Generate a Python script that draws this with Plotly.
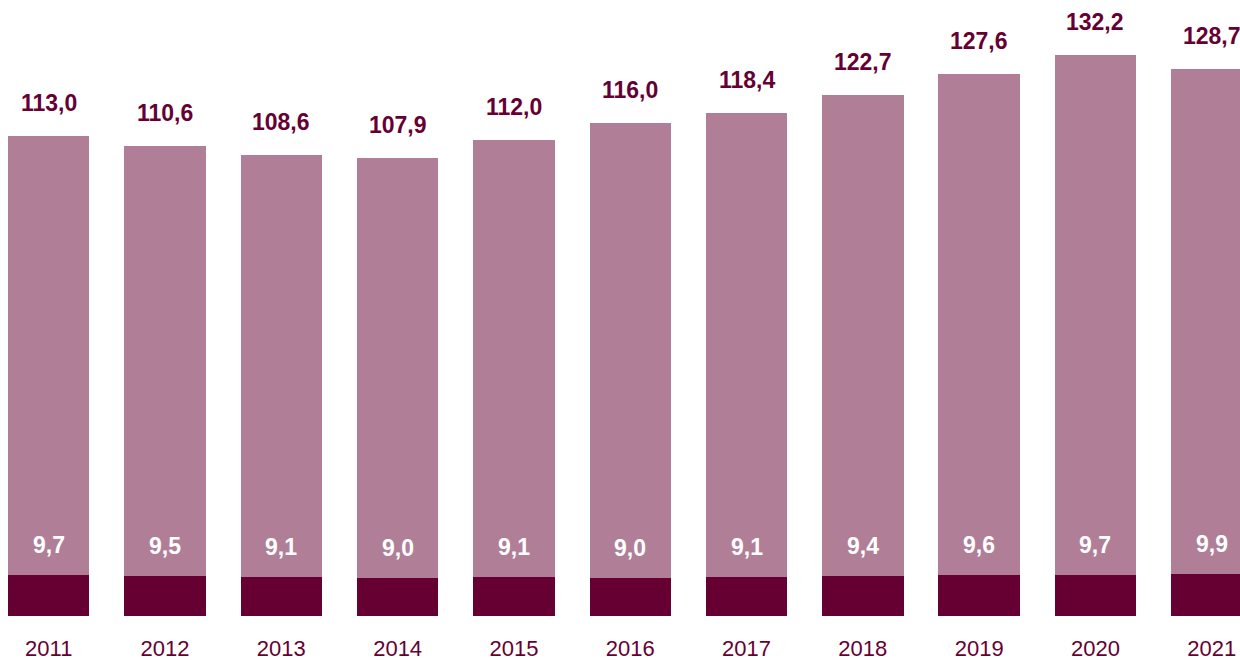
import plotly.graph_objects as go

years = ["2011", "2012", "2013", "2014", "2015", "2016", "2017", "2018", "2019", "2020", "2021"]
totals = [113.0, 110.6, 108.6, 107.9, 112.0, 116.0, 118.4, 122.7, 127.6, 132.2, 128.7]
base = [9.7, 9.5, 9.1, 9.0, 9.1, 9.0, 9.1, 9.4, 9.6, 9.7, 9.9]
upper = [round(t - b, 1) for t, b in zip(totals, base)]

DARK = "#660033"
LIGHT = "#B07F97"
FONT = "Liberation Sans, Arial, sans-serif"

def fmt(v):
    return f"{v:.1f}".replace(".", ",")

fig = go.Figure()
fig.add_trace(go.Bar(x=years, y=base, marker=dict(color=DARK, line=dict(width=0)),
                     width=0.7, hoverinfo="skip"))
fig.add_trace(go.Bar(x=years, y=upper, marker=dict(color=LIGHT, line=dict(width=0)),
                     width=0.7, hoverinfo="skip"))

annotations = []
for i, (t, b) in enumerate(zip(totals, base)):
    annotations.append(dict(x=i, y=t, text=f"<b>{fmt(t)}</b>", showarrow=False,
                            yanchor="middle", yshift=33, xref="x", yref="y",
                            font=dict(family=FONT, size=23, color=DARK)))
    annotations.append(dict(x=i, y=b, text=f"<b>{fmt(b)}</b>", showarrow=False,
                            yanchor="middle", yshift=30, xref="x", yref="y",
                            font=dict(family=FONT, size=23, color="white")))

fig.update_layout(
    barmode="stack",
    width=1240, height=660,
    margin=dict(l=0, r=0, t=0, b=44, autoexpand=False),
    paper_bgcolor="white", plot_bgcolor="white",
    showlegend=False,
    annotations=annotations,
    xaxis=dict(type="category", range=[-0.419, 10.243], showgrid=False, showline=False,
               zeroline=False, automargin=False, ticks="outside", ticklen=13,
               tickcolor="rgba(0,0,0,0)",
               tickfont=dict(family=FONT, size=22, color=DARK)),
    yaxis=dict(range=[0, 145.05], visible=False, showgrid=False, zeroline=False,
               automargin=False),
)

fig.write_html("out.html", config={"displayModeBar": False},
               post_script="document.body.style.margin='0';document.body.style.overflow='hidden';")
